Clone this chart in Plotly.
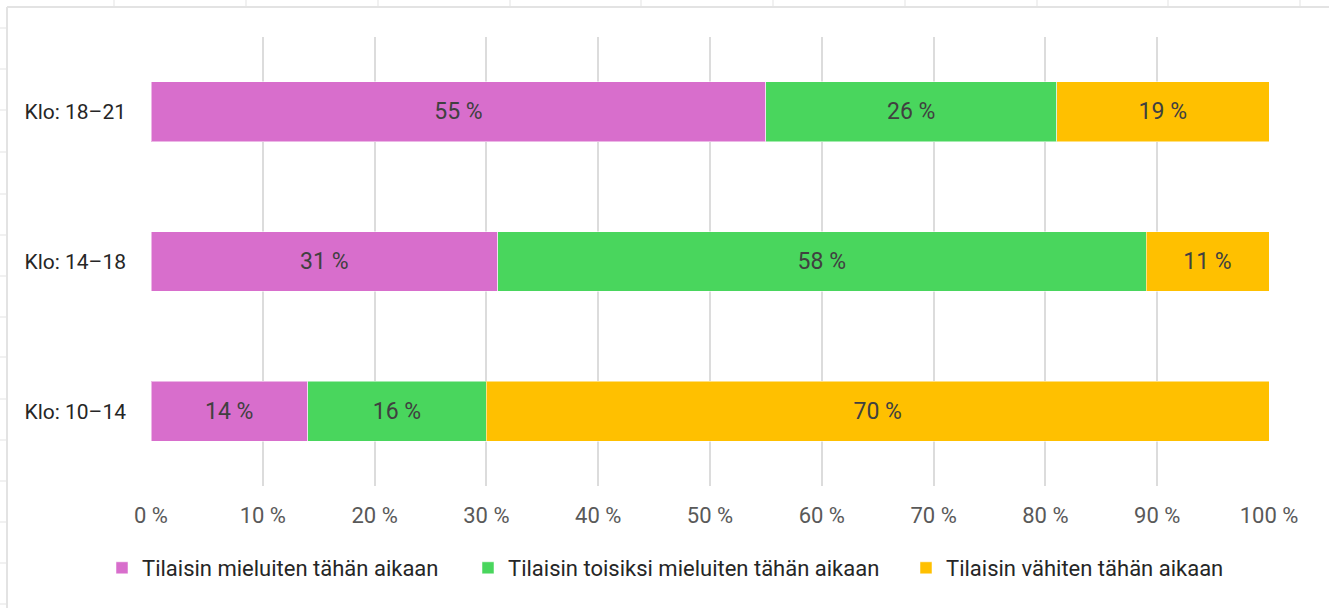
import plotly.graph_objects as go

# aikavälit (alhaalta ylös)
kellonajat = ["Klo: 10–14", "Klo: 14–18", "Klo: 18–21"]

mieluiten = [14, 31, 55]
toisiksi = [16, 58, 26]
vahiten = [70, 11, 19]

sarjat = [
    ("Tilaisin mieluiten tähän aikaan", mieluiten, "#D86ECC"),
    ("Tilaisin toisiksi mieluiten tähän aikaan", toisiksi, "#49D65D"),
    ("Tilaisin vähiten tähän aikaan", vahiten, "#FFC000"),
]

W, H = 1333, 608
L, R, T, B = 151, 64, 37, 122
pw, ph = W - L - R, H - T - B


def px(x):
    return (x - L) / pw


def py(y):
    return (H - B - y) / ph


fig = go.Figure()

selitteet = ["legend", "legend2", "legend3"]
for (nimi, arvot, vari), sel in zip(sarjat, selitteet):
    fig.add_trace(go.Bar(
        y=kellonajat,
        x=arvot,
        name=nimi,
        orientation="h",
        legend=sel,
        marker=dict(color=vari, line=dict(color="rgba(255,255,255,0.5)", width=1)),
        text=[f"{v} %" for v in arvot],
        textposition="inside",
        insidetextanchor="middle",
        textfont=dict(color="#404040", size=23),
        hoverinfo="skip",
    ))

# taulukkolaskentaohjelman reunat kaavion ympärillä
reuna = "#E3E3E3"
muodot = [
    dict(type="line", xref="paper", yref="paper",
         x0=px(7), x1=px(1329), y0=py(7), y1=py(7),
         line=dict(color=reuna, width=2)),
    dict(type="line", xref="paper", yref="paper",
         x0=px(7), x1=px(7), y0=py(7), y1=py(608),
         line=dict(color=reuna, width=2)),
]
for xs in [114, 246, 378, 510, 641, 773, 905, 1037, 1168, 1300]:
    muodot.append(dict(type="line", xref="paper", yref="paper",
                       x0=px(xs), x1=px(xs), y0=py(0), y1=py(6),
                       line=dict(color=reuna, width=1)))
for ys in [28, 69, 110, 152, 194, 235, 276, 317, 357, 399, 440, 481, 522, 563, 604]:
    muodot.append(dict(type="line", xref="paper", yref="paper",
                       x0=px(0), x1=px(6), y0=py(ys), y1=py(ys),
                       line=dict(color=reuna, width=1)))


def selite(vasen):
    return dict(
        orientation="h",
        x=px(vasen),
        xanchor="left",
        y=py(568),
        yanchor="middle",
        font=dict(color="#262626", size=22),
        itemwidth=30,
        bgcolor="rgba(0,0,0,0)",
    )


fig.update_layout(
    barmode="stack",
    bargap=0.6,
    width=W,
    height=H,
    margin=dict(l=L, r=R, t=T, b=B),
    paper_bgcolor="white",
    plot_bgcolor="white",
    font=dict(family="Roboto, Arial, sans-serif"),
    shapes=muodot,
    xaxis=dict(
        range=[0, 100],
        dtick=10,
        ticksuffix=" %",
        showgrid=True,
        gridcolor="#DCDCDC",
        gridwidth=1.5,
        zeroline=False,
        tickfont=dict(color="#595959", size=22),
        ticklabelstandoff=14,
    ),
    yaxis=dict(
        tickfont=dict(color="#262626", size=21),
        ticklabelstandoff=24,
        showgrid=False,
    ),
    legend=selite(102),
    legend2=selite(468),
    legend3=selite(906),
    showlegend=True,
)

# sivun oletusmarginaali pois, jotta kaavio alkaa vasemmasta yläkulmasta
fig.write_html("out.html", config={"displayModeBar": False},
               post_script="document.body.style.margin='0';")
